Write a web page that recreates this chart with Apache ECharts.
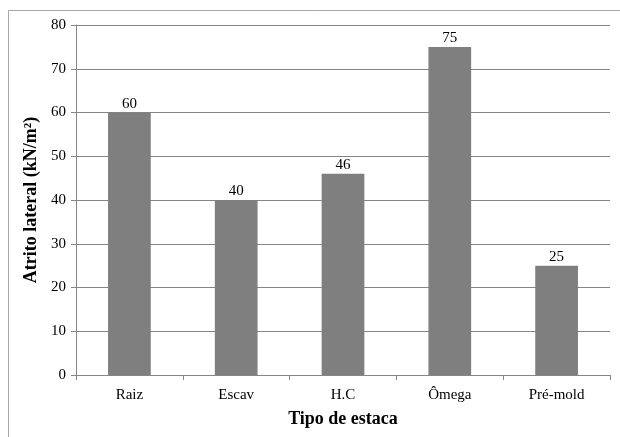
<!DOCTYPE html>
<html><head><meta charset="utf-8">
<script src="https://cdn.jsdelivr.net/npm/echarts@6/dist/echarts.min.js"></script>
<style>html,body{margin:0;padding:0;background:#fff}#c{width:620px;height:437px}</style>
</head><body><div id="c"></div>
<script>
const categories = ['Raiz', 'Escav', 'H.C', 'Ômega', 'Pré-mold'];
const values = [60, 40, 46, 75, 25];
const yTicks = [0, 10, 20, 30, 40, 50, 60, 70, 80];

const font = '"Liberation Serif", "Times New Roman", serif';
const chart = echarts.init(document.getElementById('c'), null, {renderer: 'canvas'});
chart.setOption({
  animation: false,
  backgroundColor: '#fff',
  graphic: [{type: 'rect', shape: {x: 8.5, y: 10.5, width: 640, height: 460}, style: {fill: 'none', stroke: '#a6a6a6', lineWidth: 1}, silent: true}],
  grid: {left: 76, right: 10, top: 25, bottom: 62, containLabel: false},
  xAxis: {
    type: 'category', data: categories,
    name: 'Tipo de estaca', nameLocation: 'middle', nameGap: 35,
    nameTextStyle: {fontFamily: font, fontSize: 18, fontWeight: 'bold', color: '#000'},
    axisLine: {lineStyle: {color: '#868686', width: 1}},
    axisTick: {show: true, alignWithLabel: false, length: 5, lineStyle: {color: '#868686'}},
    axisLabel: {fontFamily: font, fontSize: 15, color: '#000', margin: 13}
  },
  yAxis: {
    type: 'value', min: yTicks[0], max: yTicks[yTicks.length - 1], interval: 10,
    name: 'Atrito lateral (kN/m²)', nameLocation: 'middle', nameGap: 34, nameRotate: 90,
    nameTextStyle: {fontFamily: font, fontSize: 18, fontWeight: 'bold', color: '#000'},
    axisLine: {show: true, lineStyle: {color: '#868686', width: 1}},
    axisTick: {show: true, length: 5, lineStyle: {color: '#868686'}},
    axisLabel: {fontFamily: font, fontSize: 15, color: '#000', margin: 10},
    splitLine: {show: true, lineStyle: {color: '#868686', width: 1}}
  },
  series: [{
    type: 'bar', data: values, barWidth: '40%',
    itemStyle: {color: '#7f7f7f'},
    label: {show: true, position: 'top', distance: 1, fontFamily: font, fontSize: 15, color: '#000'}
  }]
});
</script></body></html>
